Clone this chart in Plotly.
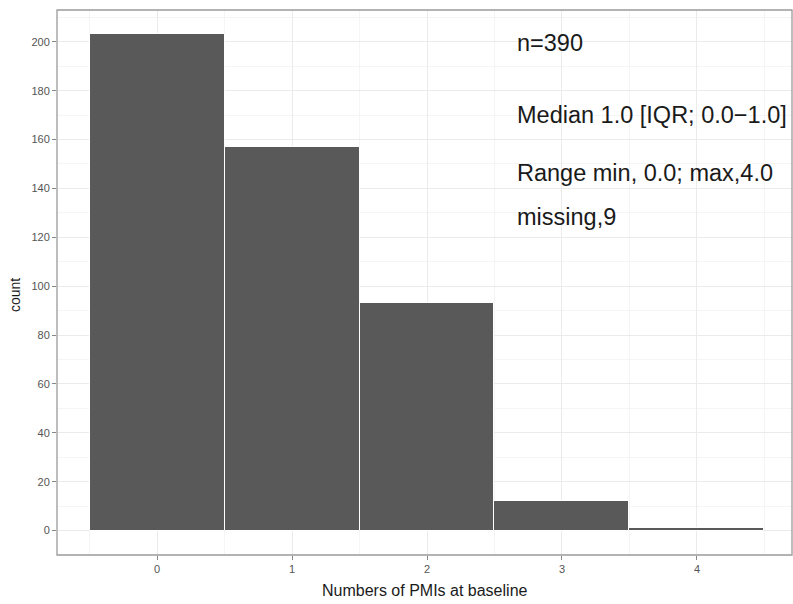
import plotly.graph_objects as go

categories = [0, 1, 2, 3, 4]
counts = [203, 157, 93, 12, 1]
y_ticks = [0, 20, 40, 60, 80, 100, 120, 140, 160, 180, 200]
x_ticks = [0, 1, 2, 3, 4]
stat_lines = ["n=390", "Median 1.0 [IQR; 0.0\u22121.0]", "Range min, 0.0; max,4.0", "missing,9"]
stat_y = [199.5, 170, 146.3, 128.3]
stat_x = 2.655

fig = go.Figure()
fig.add_trace(go.Bar(
    x=categories, y=counts, width=1,
    marker=dict(color="#595959", line=dict(color="white", width=1)),
    showlegend=False, hoverinfo="skip",
))

for txt, yy in zip(stat_lines, stat_y):
    fig.add_annotation(x=stat_x, y=yy, text=txt, showarrow=False,
                       xanchor="left", yanchor="middle",
                       font=dict(family="Liberation Sans, Arial", size=23.5, color="#1a1a1a"))

# axis titles as paper annotations
fig.add_annotation(xref="paper", yref="paper", x=(15 - 57) / 735, y=(555 - 295) / 545,
                   text="count", textangle=-90, showarrow=False,
                   xanchor="center", yanchor="middle",
                   font=dict(family="Liberation Sans, Arial", size=14, color="#1a1a1a"))
fig.add_annotation(xref="paper", yref="paper", x=(425 - 57) / 735, y=-(590 - 555) / 545,
                   text="Numbers of PMIs at baseline", showarrow=False,
                   xanchor="center", yanchor="middle",
                   font=dict(family="Liberation Sans, Arial", size=16, color="#1a1a1a"))

fig.update_layout(
    width=793, height=604,
    margin=dict(l=57, r=1, t=10, b=49),
    paper_bgcolor="white", plot_bgcolor="white",
    bargap=0,
    font=dict(family="Liberation Sans, Arial", color="#4d4d4d"),
    xaxis=dict(
        range=[-0.741, 4.704], tickvals=x_ticks, ticktext=[str(v) for v in x_ticks],
        showgrid=True, gridcolor="#ebebeb", gridwidth=1,
        ticks="outside", ticklen=4, tickcolor="#888888", tickwidth=1,
        tickfont=dict(size=11, color="#555555"),
        zeroline=False, showline=False, automargin=False,
        minor=dict(tickvals=[-0.5, 0.5, 1.5, 2.5, 3.5, 4.5], showgrid=True, gridcolor="#f5f5f5", gridwidth=1),
    ),
    yaxis=dict(
        range=[-10.0, 213.0], tickvals=y_ticks,
        showgrid=True, gridcolor="#ebebeb", gridwidth=1,
        ticks="outside", ticklen=4, tickcolor="#888888", tickwidth=1,
        tickfont=dict(size=11, color="#555555"),
        zeroline=False, showline=False, automargin=False,
        minor=dict(dtick=10, tick0=10, showgrid=True, gridcolor="#f5f5f5", gridwidth=1),
    ),
    shapes=[dict(type="rect", xref="paper", yref="paper", x0=0, y0=0, x1=1, y1=1,
                 line=dict(color="#9a9a9a", width=1.3), fillcolor="rgba(0,0,0,0)", layer="above")],
)

fig.write_html("out.html", config={"displayModeBar": False})

with open("out.html", "r", encoding="utf-8") as f:
    html = f.read()
html = html.replace("<head>", "<head><style>html,body{margin:0;padding:0;overflow:hidden}</style>", 1)
with open("out.html", "w", encoding="utf-8") as f:
    f.write(html)
